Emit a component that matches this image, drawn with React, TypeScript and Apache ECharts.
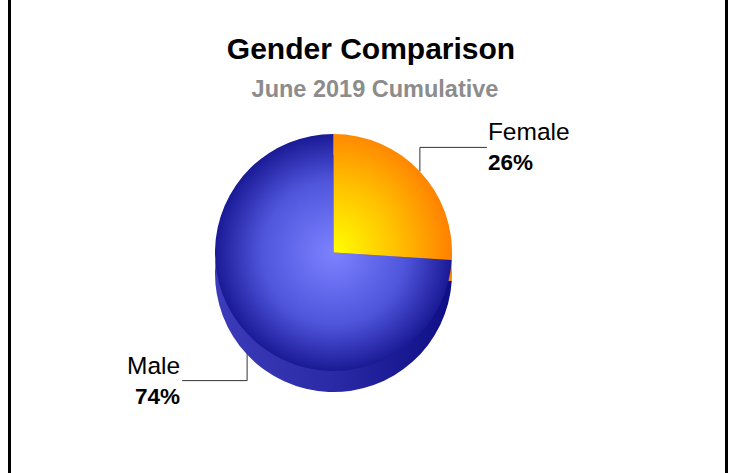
import React, { useEffect, useRef } from "react";
import * as echarts from "echarts";

const categories = ["Female", "Male"];
const values = [26, 74];
const titleText = "Gender Comparison";
const subtitleText = "June 2019 Cumulative";

const FONT = "'Liberation Sans', Arial, Helvetica, sans-serif";

const topColors = [
  new echarts.graphic.RadialGradient(0, 0.93, 1, [
    { offset: 0, color: "#ffff00" },
    { offset: 0.55, color: "#ffbe00" },
    { offset: 1, color: "#ff8000" },
  ]),
  new echarts.graphic.RadialGradient(0.5, 0.5, 0.5, [
    { offset: 0, color: "#7c82ff" },
    { offset: 0.6, color: "#5056dc" },
    { offset: 1, color: "#1a1a96" },
  ]),
];

const sideColors = [
  "#ff8400",
  new echarts.graphic.LinearGradient(0, 0, 1, 0, [
    { offset: 0, color: "#3c3cba" },
    { offset: 0.5, color: "#2a2aa6" },
    { offset: 1, color: "#0e0e86" },
  ]),
];

export default function App() {
  const ref = useRef<HTMLDivElement>(null);
  useEffect(() => {
    if (!ref.current) return;
    const chart = echarts.init(ref.current, undefined, { renderer: "svg" });
    const cx = 333.5;
    const cy = 252.5;
    const r = 118.5;
    const depth = 21;
    chart.setOption({
      animation: false,
      backgroundColor: "#ffffff",
      title: [
        {
          text: titleText,
          left: 366,
          top: 28,
          textAlign: "center",
          textStyle: { fontFamily: FONT, fontSize: 30, fontWeight: "bold", color: "#000000" },
        },
        {
          text: subtitleText,
          left: 370,
          top: 72,
          textAlign: "center",
          textStyle: { fontFamily: FONT, fontSize: 23.5, fontWeight: "bold", color: "#8c8c8c" },
        },
      ],
      graphic: [
        { type: "rect", shape: { x: 8, y: 0, width: 3, height: 473 }, style: { fill: "#000" }, silent: true },
        { type: "rect", shape: { x: 725, y: 0, width: 3, height: 473 }, style: { fill: "#000" }, silent: true },
      ],
      series: [
        {
          type: "pie",
          silent: true,
          center: [cx, cy + depth],
          radius: r,
          startAngle: 90,
          clockwise: true,
          label: { show: false },
          labelLine: { show: false },
          data: categories.map((name, i) => ({
            name,
            value: values[i],
            itemStyle: { color: sideColors[i] },
          })),
        },
        {
          type: "pie",
          silent: true,
          center: [cx, cy],
          radius: r,
          startAngle: 90,
          clockwise: true,
          avoidLabelOverlap: false,
          label: {
            show: true,
            position: "outside",
            formatter: "{n|{b}}\n{p|{d}%}",
            rich: {
              n: { fontFamily: FONT, fontSize: 24.5, color: "#000", lineHeight: 31 },
              p: { fontFamily: FONT, fontSize: 22.5, fontWeight: "bold", color: "#000", lineHeight: 31 },
            },
          },
          labelLine: { show: true, length: 10, length2: 10, lineStyle: { color: "#333", width: 1 } },
          labelLayout: (params: any) => {
            const pts = params.labelLinePoints;
            if (!pts || !pts[0]) return {};
            const x0 = pts[0][0];
            const y0 = pts[0][1];
            if (params.dataIndex === 0) {
              const y1 = y0 - 24;
              const x2 = x0 + 67;
              return {
                x: x2 + 1,
                y: y1,
                align: "left",
                verticalAlign: "middle",
                labelLinePoints: [[x0, y0], [x0, y1], [x2, y1]],
              };
            }
            const y1 = y0 + 47;
            const x2 = x0 - 65;
            return {
              x: x2 - 2,
              y: y1,
              align: "right",
              verticalAlign: "middle",
              labelLinePoints: [[x0, y0], [x0, y1], [x2, y1]],
            };
          },
          data: categories.map((name, i) => ({
            name,
            value: values[i],
            itemStyle: { color: topColors[i] },
          })),
        },
      ],
    });
    return () => chart.dispose();
  }, []);
  return (
    <div style={{ position: "fixed", left: 0, top: 0, width: 730, height: 473, background: "#fff" }}>
      <div ref={ref} style={{ width: 730, height: 473 }} />
    </div>
  );
}
